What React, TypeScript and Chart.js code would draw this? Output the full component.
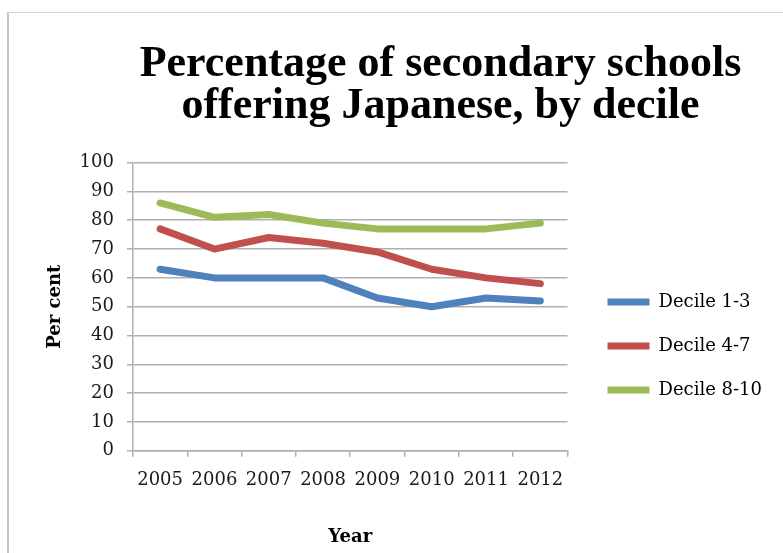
import React, { useEffect, useRef } from "react";
import { Chart, registerables } from "chart.js";

Chart.register(...registerables);

const chartTitle = ["Percentage of secondary schools", "offering Japanese, by decile"];
const years = ["2005", "2006", "2007", "2008", "2009", "2010", "2011", "2012"];
const seriesLabels = ["Decile 1-3", "Decile 4-7", "Decile 8-10"];
const decile1to3 = [63, 60, 60, 60, 53, 50, 53, 52];
const decile4to7 = [77, 70, 74, 72, 69, 63, 60, 58];
const decile8to10 = [86, 81, 82, 79, 77, 77, 77, 79];
const seriesColors = ["#4F81BD", "#C0504D", "#9BBB59"];
const yTitle = "Per cent";
const xTitle = "Year";
const yMin = 0;
const yMax = 100;
const yStep = 10;

const GRID = "#b0b0b0";
const SERIF = "'DejaVu Serif', 'Liberation Serif', serif";

export default function App() {
  const ref = useRef<HTMLCanvasElement | null>(null);

  useEffect(() => {
    if (!ref.current) return;
    const values = [decile1to3, decile4to7, decile8to10];
    const chart = new Chart(ref.current, {
      type: "line",
      data: {
        labels: years,
        datasets: values.map((v, i) => ({
          label: seriesLabels[i],
          data: v,
          borderColor: seriesColors[i],
          backgroundColor: seriesColors[i],
          borderWidth: 7,
          borderCapStyle: "round",
          borderJoinStyle: "round",
          pointRadius: 0,
          pointHoverRadius: 0,
          tension: 0,
          fill: false,
        })),
      },
      options: {
        responsive: false,
        animation: false,
        layout: { padding: { left: 45, right: 0, top: 0, bottom: 0 } },
        plugins: {
          tooltip: { enabled: false },
          title: {
            display: true,
            text: chartTitle,
            color: "#000",
            font: { family: "'Liberation Serif', serif", size: 44, weight: "bold", lineHeight: 0.95 },
            padding: { top: 44, bottom: 35 },
          },
          legend: {
            position: "right",
            align: "start",
            maxWidth: 400,
            title: {
              display: true,
              text: "",
              padding: { top: 257, bottom: 0 },
              font: { size: 10, lineHeight: 1 },
            },
            labels: {
              usePointStyle: true,
              pointStyle: "line",
              pointStyleWidth: 42,
              padding: 26,
              color: "#000",
              font: { family: SERIF, size: 18 },
            },
          },
        },
        scales: {
          x: {
            type: "category",
            offset: true,
            grid: {
              offset: true,
              drawOnChartArea: false,
              drawTicks: true,
              tickLength: 6,
              color: GRID,
              lineWidth: 1.5,
            },
            border: { color: GRID, width: 1.5 },
            ticks: { color: "#1a1a1a", font: { family: SERIF, size: 18 }, padding: 13, maxRotation: 0 },
            title: {
              display: true,
              text: xTitle,
              color: "#000",
              font: { family: SERIF, size: 18, weight: "bold" },
              padding: { top: 22, bottom: 5 },
            },
          },
          y: {
            position: "left",
            min: yMin,
            max: yMax,
            ticks: { stepSize: yStep, color: "#1a1a1a", font: { family: SERIF, size: 18 }, padding: 13 },
            grid: { color: GRID, lineWidth: 1.5, tickLength: 6, drawTicks: true },
            border: { color: GRID, width: 1.5 },
            title: {
              display: true,
              text: yTitle,
              color: "#000",
              font: { family: SERIF, size: 18, weight: "bold" },
              padding: { top: 0, bottom: 0 },
            },
          },
          gapInner: {
            type: "linear",
            position: "right",
            weight: 0,
            display: true,
            grid: { display: false },
            border: { display: false },
            ticks: { display: false },
            afterFit: (s: any) => { s.width = 14; },
          },
          gapOuter: {
            type: "linear",
            position: "right",
            weight: 2000,
            display: true,
            grid: { display: false },
            border: { display: false },
            ticks: { display: false },
            afterFit: (s: any) => { s.width = 64; },
          },
        },
      },
    } as any);
    return () => chart.destroy();
  }, []);

  return (
    <div style={{ position: "fixed", left: 0, top: 0, width: 783, height: 553, overflow: "hidden", background: "#fff" }}>
      <div
        style={{
          position: "absolute",
          left: 7,
          top: 12,
          width: 900,
          height: 700,
          borderLeft: "2px solid #c4c4c4",
          borderTop: "1px solid #d6d6d6",
        }}
      />
      <canvas ref={ref} width={836} height={553} style={{ position: "absolute", left: 0, top: 0, width: 836, height: 553 }} />
    </div>
  );
}
